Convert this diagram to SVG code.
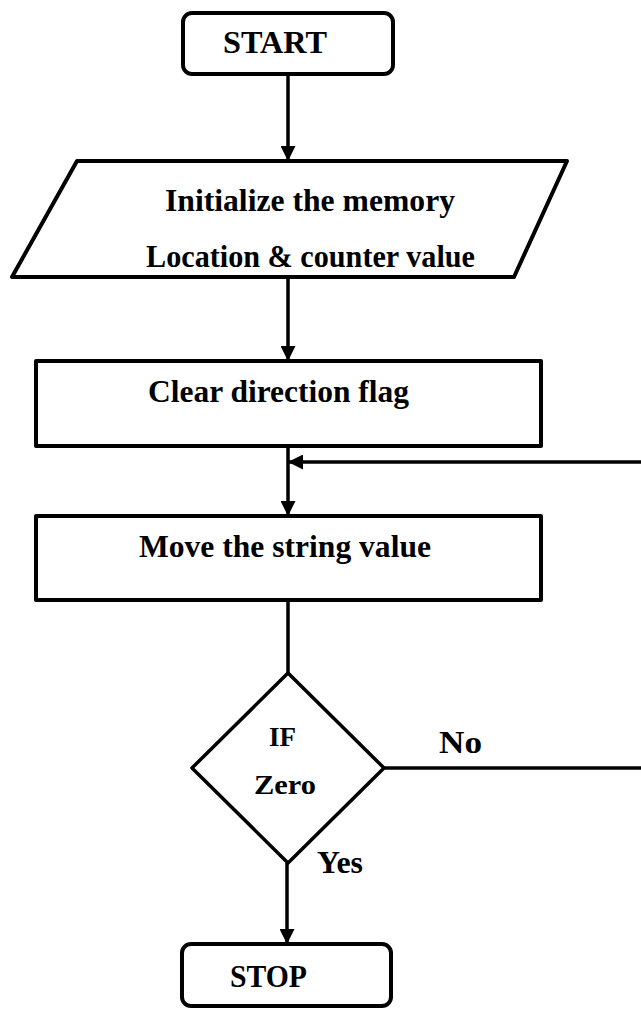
<svg xmlns="http://www.w3.org/2000/svg" width="641" height="1009" viewBox="0 0 641 1009">
<style>
.box{fill:#fff;stroke:#000;stroke-width:4;stroke-linejoin:round;stroke-linecap:round}
.con{fill:none;stroke:#000;stroke-width:3.5}
.t{font-family:"Liberation Serif","Times New Roman",serif;font-weight:bold;font-size:32px;fill:#000}
.s{font-size:27px}
</style>
<defs>
<marker id="ah" viewBox="0 0 10 10" refX="10" refY="5" markerWidth="15" markerHeight="15" markerUnits="userSpaceOnUse" orient="auto">
<path d="M0,0 L10,5 L0,10 z" fill="#000"/>
</marker>
</defs>
<rect width="641" height="1009" fill="#fff"/>
<g id="connectors">
<line class="con" x1="288" y1="74" x2="288" y2="161" marker-end="url(#ah)"/>
<line class="con" x1="288" y1="277" x2="288" y2="361" marker-end="url(#ah)"/>
<line class="con" x1="288" y1="446" x2="288" y2="516" marker-end="url(#ah)"/>
<line class="con" x1="288" y1="600" x2="288" y2="673"/>
<line class="con" x1="287" y1="863" x2="287" y2="944" marker-end="url(#ah)"/>
<line class="con" x1="384" y1="768" x2="641" y2="768"/>
<line class="con" x1="641" y1="462" x2="288" y2="462" marker-end="url(#ah)"/>
</g>
<g id="start">
<rect class="box" x="183" y="13" width="210" height="61" rx="9"/>
<text class="t" x="223" y="53" textLength="104" lengthAdjust="spacingAndGlyphs">START</text>
</g>
<g id="init">
<polygon class="box" points="77,161 567,161 514,277 12,277"/>
<text class="t" x="165" y="211" textLength="290" lengthAdjust="spacingAndGlyphs">Initialize the memory</text>
<text class="t" x="146" y="267" textLength="329" lengthAdjust="spacingAndGlyphs">Location &amp; counter value</text>
</g>
<g id="clear">
<rect class="box" x="36" y="361" width="505" height="85"/>
<text class="t" x="148" y="402" textLength="261" lengthAdjust="spacingAndGlyphs">Clear direction flag</text>
</g>
<g id="move">
<rect class="box" x="36" y="516" width="505" height="84"/>
<text class="t" x="139" y="557" textLength="292" lengthAdjust="spacingAndGlyphs">Move the string value</text>
</g>
<g id="decision">
<polygon class="box" points="288,673 384,768 288,863 192,768" style="stroke-width:3.5"/>
<text class="t s" x="269" y="746" textLength="27" lengthAdjust="spacingAndGlyphs">IF</text>
<text class="t s" x="254" y="794" textLength="62" lengthAdjust="spacingAndGlyphs">Zero</text>
</g>
<g id="labels">
<text class="t" x="439" y="753" textLength="43" lengthAdjust="spacingAndGlyphs">No</text>
<text class="t" x="317" y="873" textLength="46" lengthAdjust="spacingAndGlyphs">Yes</text>
</g>
<g id="stop">
<rect class="box" x="182" y="944" width="209" height="62" rx="9"/>
<text class="t" x="230" y="987" textLength="77" lengthAdjust="spacingAndGlyphs">STOP</text>
</g>
</svg>
